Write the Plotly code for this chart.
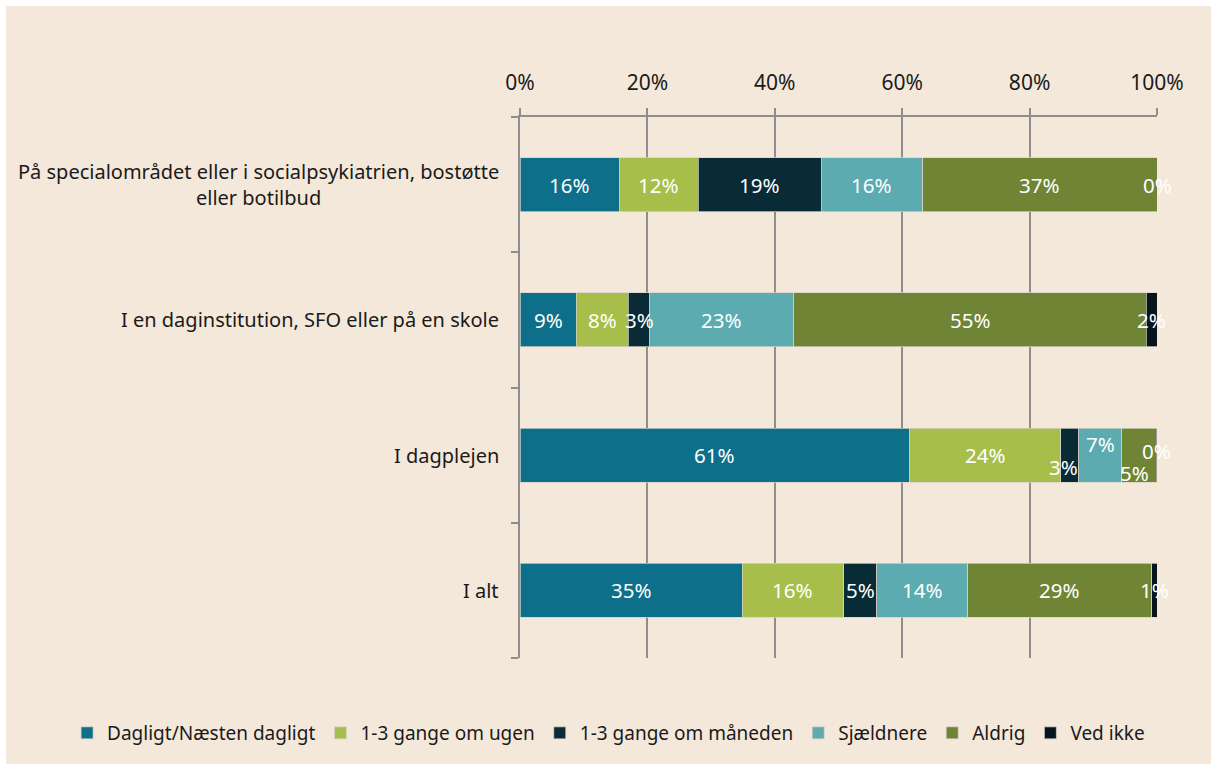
import plotly.graph_objects as go

categories = [
    "På specialområdet eller i socialpsykiatrien, bostøtte<br>eller botilbud",
    "I en daginstitution, SFO eller på en skole",
    "I dagplejen",
    "I alt",
]
series_names = [
    "Dagligt/Næsten dagligt",
    "1-3 gange om ugen",
    "1-3 gange om måneden",
    "Sjældnere",
    "Aldrig",
    "Ved ikke",
]
dagligt = [15.6, 8.8, 61.2, 34.9]
ugen = [12.4, 8.2, 23.7, 15.9]
maaned = [19.3, 3.4, 2.8, 5.2]
sjaeldnere = [15.9, 22.6, 6.8, 14.3]
aldrig = [36.8, 55.3, 5.4, 28.9]
ved_ikke = [0.0, 1.7, 0.1, 0.8]
x_ticks = [0, 20, 40, 60, 80, 100]
x_ticktext = ["0%", "20%", "40%", "60%", "80%", "100%"]

series_values = [dagligt, ugen, maaned, sjaeldnere, aldrig, ved_ikke]
colors = ["#0D6F89", "#A7BE4B", "#082B35", "#5BABB0", "#6F8434", "#06151D"]

FONT = "Noto Sans"
BG = "#F4E8DA"
GRID = "#8E8E8E"
TXT = "#1A1A1A"

# Excel-like label displacement for crowded segments (row index, series index) -> (xshift, yshift)
label_shift = {
    (2, 2): (-6, -12),
    (2, 3): (0, 11),
    (2, 4): (-5, -18),
    (2, 5): (0, 4),
}

fig = go.Figure()
for name, vals, col in zip(series_names, series_values, colors):
    fig.add_trace(go.Bar(
        name=name, y=categories, x=vals, orientation="h",
        marker=dict(color=col, line=dict(color="rgba(215,210,200,0.9)", width=0.8)),
        width=0.4, hoverinfo="x+y+name",
    ))

annotations = []
for r, cat in enumerate(categories):
    cum = 0.0
    for s, vals in enumerate(series_values):
        v = vals[r]
        xs, ys = label_shift.get((r, s), (0, 0))
        annotations.append(dict(
            x=cum + v / 2, y=cat, xref="x", yref="y",
            text=f"{round(v):d}%", showarrow=False,
            font=dict(family=FONT, size=20.5, color="white"),
            xshift=xs, yshift=ys,
        ))
        cum += v
    annotations.append(dict(
        x=0, y=cat, xref="paper", yref="y", xanchor="right", align="center",
        text=cat, showarrow=False, xshift=-19,
        font=dict(family=FONT, size=20, color=TXT),
    ))

fig.update_layout(
    barmode="stack",
    width=1211, height=764,
    margin=dict(l=520, r=54, t=117, b=106),
    paper_bgcolor="white",
    plot_bgcolor="rgba(0,0,0,0)",
    font=dict(family=FONT, size=20, color=TXT),
    annotations=annotations,
    shapes=[dict(type="rect", xref="paper", yref="paper",
                 x0=-0.8069, x1=1.2, y0=-0.3, y1=1.2052,
                 fillcolor=BG, line=dict(width=0), layer="below")],
    legend=dict(
        orientation="h", xref="paper", yref="paper",
        x=-0.711, y=-0.1386, xanchor="left", yanchor="middle",
        font=dict(family=FONT, size=19, color=TXT),
        bgcolor="rgba(0,0,0,0)", traceorder="normal",
        itemwidth=30,
    ),
    xaxis=dict(
        side="top", range=[0, 100], tickvals=x_ticks, ticktext=x_ticktext,
        showgrid=True, gridcolor=GRID, gridwidth=1.5,
        showline=True, linecolor=GRID, linewidth=1.5,
        ticks="outside", ticklen=7, tickcolor=GRID, tickwidth=1.5,
        ticklabelstandoff=10, zeroline=False,
        tickfont=dict(family=FONT, size=21, color=TXT),
        fixedrange=True,
    ),
    yaxis=dict(
        type="category", categoryorder="array", categoryarray=categories[::-1],
        showticklabels=False, showgrid=False,
        showline=True, linecolor=GRID, linewidth=1.5,
        ticks="outside", tickson="boundaries", ticklen=7, tickcolor=GRID, tickwidth=1.5,
        range=[-0.5, 3.5], fixedrange=True,
    ),
    showlegend=True,
)

fig.write_html("out.html", config={"displayModeBar": False},
               post_script="document.body.style.margin='0';document.body.style.overflow='hidden';")
